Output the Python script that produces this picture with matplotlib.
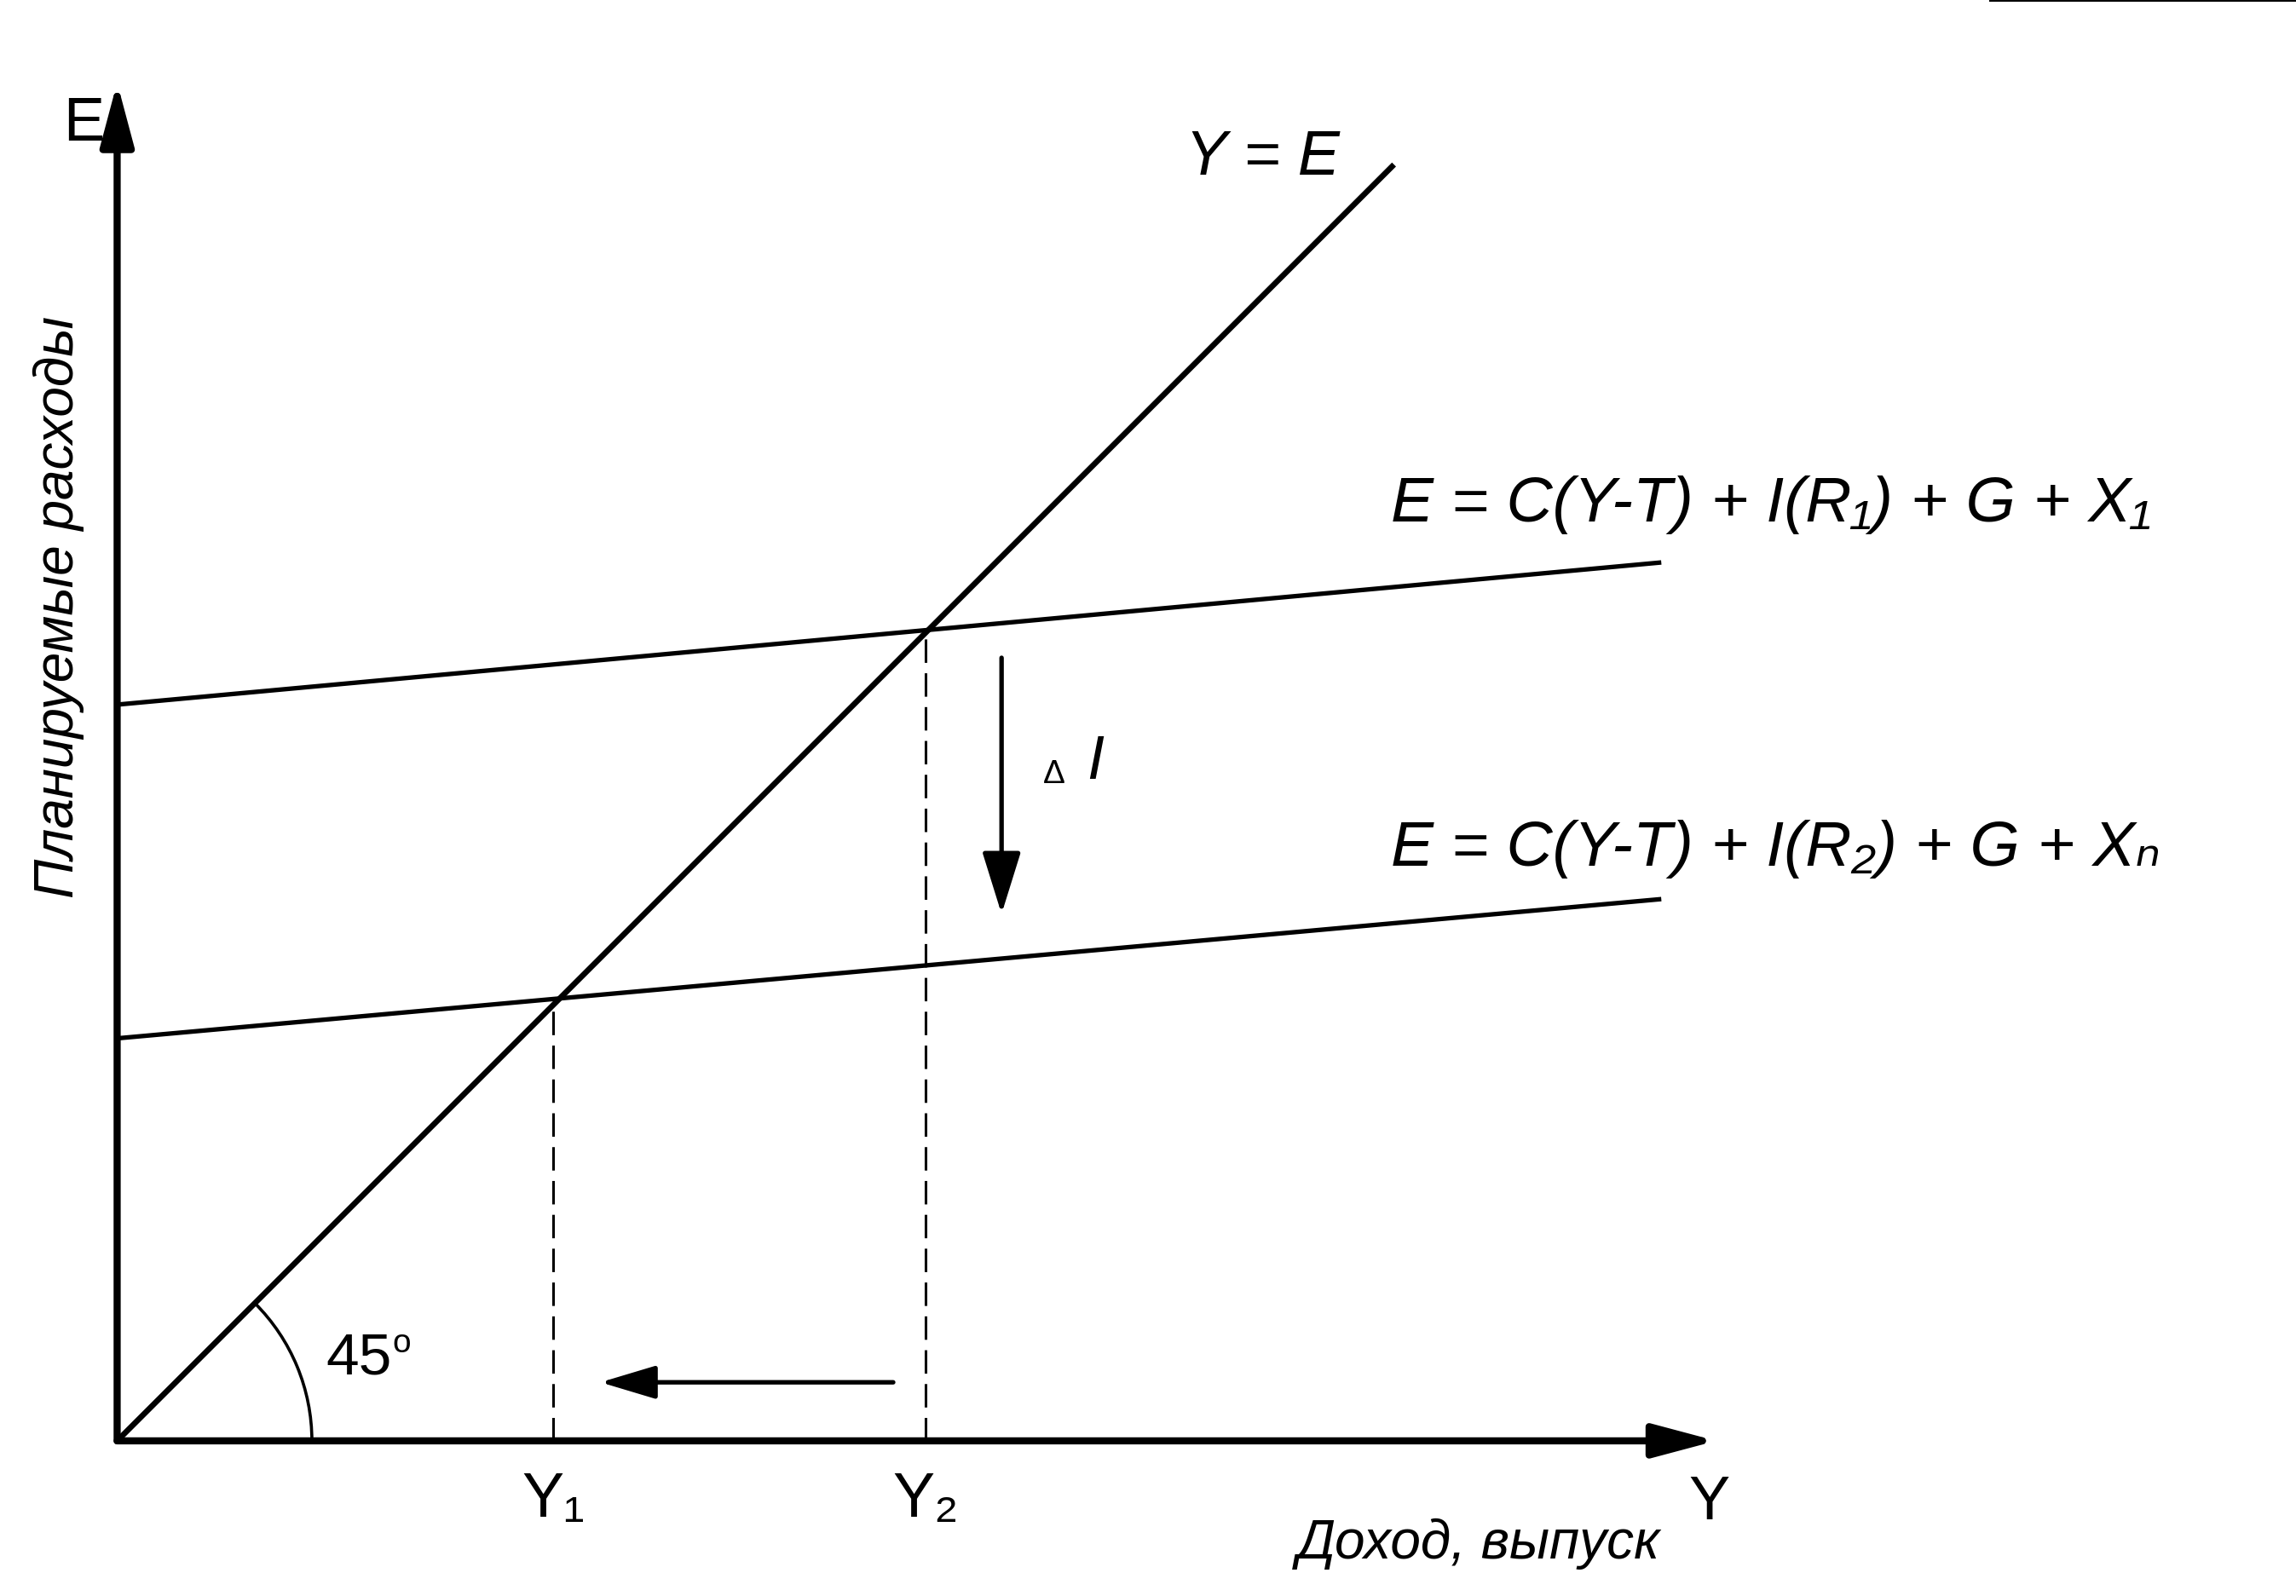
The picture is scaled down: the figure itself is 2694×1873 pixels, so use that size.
import numpy as np
import matplotlib
matplotlib.use("Agg")
import matplotlib.pyplot as plt
from matplotlib.patches import Arc

plt.rcParams['font.family'] = ['Liberation Sans', 'DejaVu Sans']

# axes extents (income Y on x, planned expenditure E on y)
x_axis_end = 10.92
y_axis_top = 9.28
line45_end = 8.72

# planned expenditure lines: endpoints
e_x = [0.0, 10.53]
e1 = [5.03, 6.00]
e2 = [2.75, 3.70]

# equilibrium incomes Y1, Y2
y_eq = [2.98, 5.52]
y_eq_labels = ['Y₁', 'Y₂']

e1_label = 'E = C(Y-T) + I(R₁) + G + X₁'
e2_label = 'E = C(Y-T) + I(R₂) + G + Xₙ'

fig = plt.figure(figsize=(26.94, 18.74), dpi=100)
ax = fig.add_axes([0, 0, 1, 1])
ax.set_xlim(-0.8, 14.88)
ax.set_ylim(-1.06, 9.85)
ax.axis('off')

def arrow(x0, y0, x1, y1, lw, hl, hw, ms=100):
    ax.annotate('', xy=(x1, y1), xytext=(x0, y0),
                arrowprops=dict(arrowstyle=f'-|>,head_length={hl},head_width={hw}',
                                lw=lw, color='black', shrinkA=0, shrinkB=0,
                                mutation_scale=ms))

# axes
arrow(0, 0, x_axis_end, 0, 6.0, 0.45, 0.12)
arrow(0, 0, 0, y_axis_top, 6.0, 0.45, 0.12)

# 45 degree line
ax.plot([0, line45_end], [0, line45_end], color='black', lw=4.8, solid_capstyle='butt')

# expenditure lines
ax.plot(e_x, e1, color='black', lw=3.8)
ax.plot(e_x, e2, color='black', lw=3.8)

# dashed drops
for i, yv in enumerate(y_eq):
    ax.plot([yv, yv], [0, yv], color='black', lw=2.2, dashes=(9, 4))
    ax.text(yv, -0.40, y_eq_labels[i], fontsize=53, ha='center', va='center')

# arc for 45 degrees
ax.add_patch(Arc((0, 0), 2.66, 2.66, theta1=0, theta2=45, color='black', lw=2.6))
ax.text(1.65, 0.57, '45', fontsize=50, ha='center', va='center')
ax.text(1.94, 0.67, 'o', fontsize=28, ha='center', va='center')

# shift arrows
arrow(6.04, 5.35, 6.04, 3.60, 3.8, 0.45, 0.14)
arrow(5.30, 0.40, 3.30, 0.40, 3.8, 0.40, 0.12)
ax.text(6.40, 4.56, 'Δ', fontsize=28, ha='center', va='center')
ax.text(6.68, 4.64, 'I', fontsize=52, style='italic', ha='center', va='center')

# labels
ax.text(-0.23, 9.0, 'E', fontsize=52, ha='center', va='center')
ax.text(7.82, 8.77, 'Y = E', fontsize=53, style='italic', ha='center', va='center')
ax.text(8.70, 6.40, e1_label, fontsize=54, style='italic', ha='left', va='center')
ax.text(8.70, 4.05, e2_label, fontsize=54, style='italic', ha='left', va='center')
ax.text(10.87, -0.42, 'Y', fontsize=52, ha='center', va='center')
ax.text(9.30, -0.70, 'Доход, выпуск', fontsize=46, style='italic', ha='center', va='center')
ax.text(-0.40, 5.70, 'Планируемые расходы', fontsize=46, style='italic',
        rotation=90, ha='center', va='center')

# short rule at top right edge
ax.plot([12.79, 14.88], [9.84, 9.84], color='black', lw=1.5)

fig.savefig('out.png', dpi=100)
